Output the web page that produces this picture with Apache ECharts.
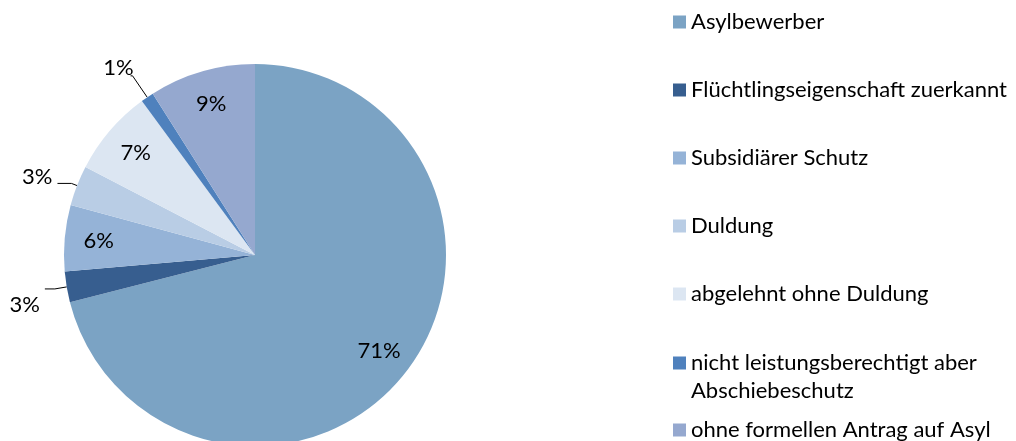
<!DOCTYPE html>
<html>
<head>
<meta charset="utf-8">
<script src="https://cdn.jsdelivr.net/npm/echarts@6/dist/echarts.min.js"></script>
<style>
  html, body { margin: 0; padding: 0; background: #fff; }
  #main { width: 1016px; height: 441px; }
</style>
</head>
<body>
<div id="main"></div>
<script>
var names = ['Asylbewerber', 'Flüchtlingseigenschaft zuerkannt', 'Subsidiärer Schutz', 'Duldung',
             'abgelehnt ohne Duldung', 'nicht leistungsberechtigt aber Abschiebeschutz',
             'ohne formellen Antrag auf Asyl'];
var values = [71.1, 2.6, 5.6, 3.4, 7.3, 1.1, 9.0];
var colors = ['#7BA3C4', '#375E8F', '#95B3D7', '#B9CDE5', '#DCE6F2', '#4F81BD', '#95A8CF'];
// leader line lengths for the small slices [radial, horizontal]
var lineLens = [null, [12, 10], null, [6, 14], null, [26, 2], null];

var font = 'Lato';
var fs = 22;
var chart = echarts.init(document.getElementById('main'));

function pct(p) { return Math.round(p.value) + '%'; }

var mainData = names.map(function (n, i) {
    var small = values[i] < 5;
    var d = {
        name: n, value: values[i],
        itemStyle: { color: colors[i] },
        label: { show: small },
        labelLine: { show: small }
    };
    if (lineLens[i]) { d.labelLine.length = lineLens[i][0]; d.labelLine.length2 = lineLens[i][1]; }
    return d;
});
// inner labels for the bigger slices (transparent ring so they sit near the rim)
var innerData = names.map(function (n, i) {
    return { name: n, value: values[i], label: { show: values[i] >= 5 } };
});

var legendText = { fontFamily: font, fontSize: fs, color: '#000', lineHeight: 28 };
var legendBase = { orient: 'vertical', left: 673, padding: 0, itemWidth: 13, itemHeight: 13, icon: 'rect' };

chart.setOption({
    animation: false,
    legend: [
        Object.assign({}, legendBase, {
            top: 8, itemGap: 40,
            data: names.slice(0, 5),
            textStyle: legendText
        }),
        Object.assign({}, legendBase, {
            top: 321,
            data: names.slice(5, 6),
            // blank first line so the marker lines up with the first text line
            formatter: function (n) { return '\n' + n.replace(' aber ', ' aber\n'); },
            textStyle: legendText
        }),
        Object.assign({}, legendBase, {
            top: 416,
            data: names.slice(6),
            textStyle: legendText
        })
    ],
    series: [{
        type: 'pie',
        center: [255, 255],
        radius: 191,
        startAngle: 90,
        clockwise: true,
        avoidLabelOverlap: false,
        itemStyle: { borderWidth: 0 },
        label: { position: 'outside', formatter: pct, fontFamily: font, fontSize: fs, color: '#000' },
        labelLine: { length: 10, length2: 14, lineStyle: { color: '#000', width: 1 } },
        labelLayout: function (p) {
            if (p.dataIndex === 1) return { dy: 16 };
            if (p.dataIndex === 3) return { dy: -7 };
            if (p.dataIndex === 5) return { dx: 8, dy: -8 };
        },
        emphasis: { disabled: true },
        data: mainData
    }, {
        type: 'pie',
        silent: true,
        center: [255, 255],
        radius: [117, 191],
        startAngle: 90,
        clockwise: true,
        itemStyle: { color: 'rgba(0,0,0,0)', borderWidth: 0 },
        label: { position: 'inside', formatter: pct, fontFamily: font, fontSize: fs, color: '#000' },
        labelLine: { show: false },
        emphasis: { disabled: true },
        data: innerData
    }]
});
</script>
</body>
</html>
